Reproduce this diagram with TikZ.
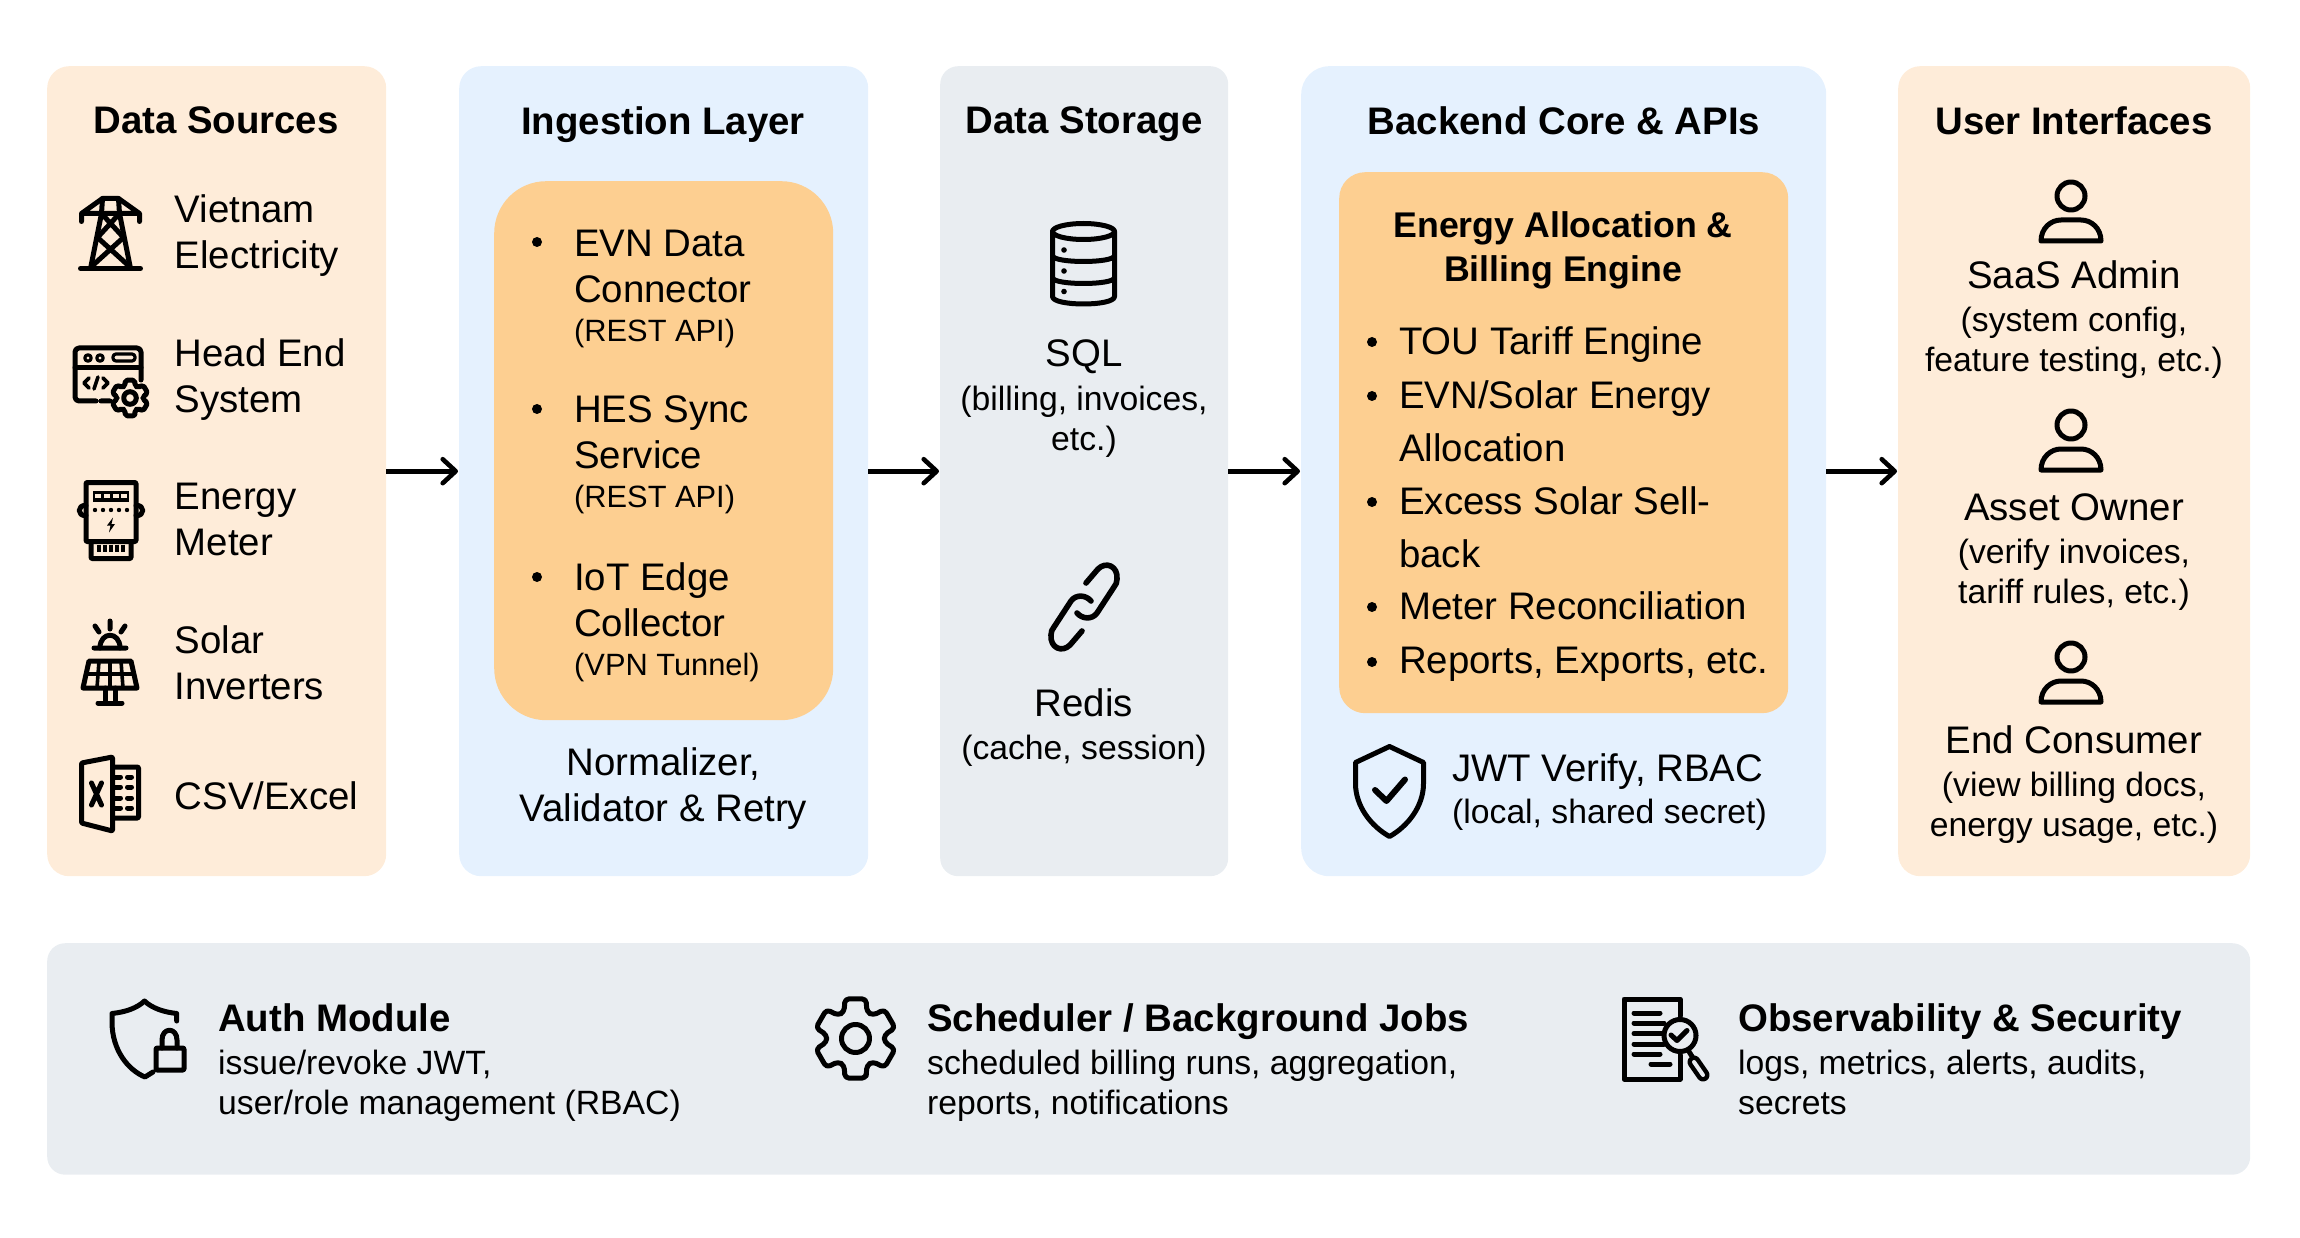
\documentclass[tikz,border=0pt]{standalone}
\usepackage{fontspec}
\setmainfont{Liberation Sans}
\usetikzlibrary{arrows.meta}
\definecolor{peach}{HTML}{FEECD9}
\definecolor{skyp}{HTML}{E5F1FE}
\definecolor{greyp}{HTML}{E9EDF1}
\definecolor{amber}{HTML}{FDCF91}
\newcommand{\fbig}{\fontsize{38.4}{46}\selectfont}
\newcommand{\fmid}{\fontsize{33.7}{40}\selectfont}
\newcommand{\flow}{\fontsize{30.8}{40}\selectfont}
% gear outline: scale, corner radius
\newcommand{\gearline}[2]{%
  \draw[icon,rounded corners=#2,scale=#1] (75:41)
    \foreach \g in {0,60,...,300} {
      -- (\g+75:41) -- (\g+105:41) -- (\g+113:29) -- (\g+127:29)
    } -- cycle;
  \draw[icon,scale=#1] (0,0) circle (14);}
% user outline
\newcommand{\userline}{%
  \draw[icon] (0,0) circle (14);
  \draw[icon] (-30,45) .. controls (-30,32) and (-20,24) .. (-10,24) -- (10,24)
    .. controls (20,24) and (30,32) .. (30,45) -- cycle;}

\begin{document}
\begin{tikzpicture}[x=1pt,y=-1pt,
  panel/.style={rectangle,inner sep=0pt,anchor=north west,rounded corners=22pt},
  t/.style={inner sep=0pt,anchor=north west,align=left,font=\fbig,yshift=1.2pt},
  tc/.style={inner sep=0pt,anchor=north,align=center,font=\fbig,yshift=1.2pt},
  s/.style={inner sep=0pt,anchor=north west,align=left,font=\fmid},
  sc/.style={inner sep=0pt,anchor=north,align=center,font=\fmid},
  h/.style={inner sep=0pt,anchor=north,font=\fbig\bfseries,yshift=1.2pt},
  hl/.style={inner sep=0pt,anchor=north west,font=\fbig\bfseries,yshift=1.2pt},
  dot/.style={circle,fill=black,inner sep=0pt,minimum size=10pt},
  icon/.style={draw=black,line width=5pt,line cap=round,line join=round},
  flowline/.style={line width=4.6pt,shorten >=1pt,-{Straight Barb[length=13pt,width=24pt,round]}}]
 \useasboundingbox (0,0) rectangle (2300,1238);
 % panels
 \node[panel,fill=peach,minimum width=339pt,minimum height=810pt] (src) at (47,66) {};
 \node[panel,fill=skyp,minimum width=409pt,minimum height=810pt] (ing) at (459,66) {};
 \node[panel,fill=greyp,minimum width=288pt,minimum height=810pt,rounded corners=18pt] (sto) at (940,66) {};
 \node[panel,fill=skyp,minimum width=525pt,minimum height=810pt,rounded corners=28pt] (bak) at (1301,66) {};
 \node[panel,fill=peach,minimum width=352pt,minimum height=810pt] (ui) at (1898,66) {};
 \node[panel,fill=greyp,minimum width=2203pt,minimum height=231.5pt,rounded corners=18pt] (bar) at (47,943) {};
 \node[panel,fill=amber,minimum width=339pt,minimum height=539pt,rounded corners=52pt] (ingbox) at (494,181) {};
 \node[panel,fill=amber,minimum width=449pt,minimum height=541pt,rounded corners=26pt] (engbox) at (1339,172) {};
 \foreach \a/\b in {src/ing,ing/sto,sto/bak,bak/ui} \draw[flowline] (\a)--(\b);
 % titles
 \node[h] (hsrc) at (216,108) {Data Sources};
 \node[h] (hing) at (663,108) {Ingestion Layer};
 \node[h] (hsto) at (1084,108) {Data Storage};
 \node[h] (hbak) at (1564,108) {Backend Core \& APIs};
 \node[h] (hui) at (2074,108) {User Interfaces};
 % sources
 \node[t] (vn) at (174.5,196) {Vietnam\\Electricity};
 \node[t] (hes) at (174.5,340) {Head End\\System};
 \node[t] (em) at (174.5,484) {Energy\\Meter};
 \node[t] (sol) at (174.5,627) {Solar\\Inverters};
 \node[t] (csv) at (174.5,783) {CSV/Excel};
 % ingestion
 \foreach \y/\n in {242/da,409/db,577/dc} \node[dot] (\n) at (537,\y) {};
 \node[t] (evn) at (574,231) {EVN Data\\Connector\\[-7pt]{\flow (REST API)}};
 \node[t] (sync) at (574,397) {HES Sync\\Service\\[-7pt]{\flow (REST API)}};
 \node[t] (iot) at (574,564) {IoT Edge\\Collector\\[-7pt]{\flow (VPN Tunnel)}};
 \node[tc] (norm) at (663.5,749) {Normalizer,\\Validator \& Retry};
 % storage
 \node[tc] (sql) at (1084,341) {SQL};
 \node[sc] (sqls) at (1084,385.5) {(billing, invoices,\\etc.)};
 \node[tc] (red) at (1084,690) {Redis};
 \node[sc] (reds) at (1084,735) {(cache, session)};
 % engine
 \node[inner sep=0pt,anchor=north,align=center,font=\fontsize{35.7}{44}\selectfont\bfseries] (engt) at (1563,211.5) {Energy Allocation \&\\Billing Engine};
 \foreach \y/\n in {342/ea,396/eb,502/ec,607/ed,662/ee} \node[dot] (\n) at (1372,\y) {};
 \node[t] (tou) at (1399,328) {TOU Tariff Engine};
 \node[t,font=\fontsize{38.4}{53}\selectfont] (alloc) at (1399,382) {EVN/Solar Energy\\Allocation};
 \node[t,font=\fontsize{38.4}{53}\selectfont] (excess) at (1399,488) {Excess Solar Sell-\\back};
 \node[t] (recon) at (1399,593) {Meter Reconciliation};
 \node[t] (rep) at (1399,648) {Reports, Exports, etc.};
 \node[t] (jwt) at (1452,755) {JWT Verify, RBAC};
 \node[s] (jwts) at (1452,799) {(local, shared secret)};
 % users
 \node[tc] (saas) at (2074,262) {SaaS Admin};
 \node[sc] (saass) at (2074,307) {(system config,\\feature testing, etc.)};
 \node[tc] (own) at (2074,495) {Asset Owner};
 \node[sc] (owns) at (2074,538.5) {(verify invoices,\\tariff rules, etc.)};
 \node[tc] (cons) at (2074,727) {End Consumer};
 \node[sc] (conss) at (2074,772) {(view billing docs,\\energy usage, etc.)};
 % bottom bar
 \node[hl] (auth) at (218,1005) {Auth Module};
 \node[s] (auths) at (218,1050) {issue/revoke JWT,\\user/role management (RBAC)};
 \node[hl] (sch) at (927,1005) {Scheduler / Background Jobs};
 \node[s] (schs) at (927,1050) {scheduled billing runs, aggregation,\\reports, notifications};
 \node[hl] (obs) at (1738,1005) {Observability \& Security};
 \node[s] (obss) at (1738,1050) {logs, metrics, alerts, audits,\\secrets};
 % tower
 \begin{scope}[shift={(110.5,232.5)}]
  \draw[icon] (-30,36)--(30,36);
  \draw[icon] (-20,36)--(-9,-19)--(-8,-34)--(8,-34)--(9,-19)--(20,36);
  \draw[icon] (-29,-11)--(-29,-19)--(-8,-34) (29,-11)--(29,-19)--(8,-34) (-29,-19)--(29,-19);
  \draw[icon] (-9,-19)--(13,5)--(-19,34) (9,-19)--(-13,5)--(19,34);
 \end{scope}
 % head end window
 \begin{scope}[shift={(111,382)}]
  \draw[icon,rounded corners=4pt] (-1,19)--(-10,19) (-15,19)--(-36,19)--(-36,-34)--(30,-34)--(30,-2);
  \draw[icon] (-36,-14)--(30,-14);
  \draw[icon,line width=3.2pt] (-23,-24) circle (3.2) (-11,-24) circle (3.2);
  \draw[icon,line width=3.2pt,rounded corners=3pt] (2,-28)--(24,-28)--(24,-21)--(2,-21)--cycle;
  \draw[icon,line width=3.6pt] (-22,-4)--(-27,1)--(-22,6) (-17,7)--(-13,-5) (-8,-4)--(-3,1)--(-8,6);
  \begin{scope}[shift={(19,16)}]
   \gearline{0.45}{2pt}
  \end{scope}
 \end{scope}
 % meter
 \begin{scope}[shift={(111,520.5)}]
  \draw[icon,rounded corners=1pt] (-25,-38)--(25,-38)--(25,21)--(-25,21)--cycle;
  \draw[icon,rounded corners=1pt] (-20,21)--(-20,38)--(20,38)--(20,21);
  \draw[icon] (-25,-15) .. controls (-34,-16) and (-34,-4) .. (-25,-5);
  \draw[icon] (25,-15) .. controls (34,-16) and (34,-4) .. (25,-5);
  \fill (-18,-30) rectangle (18,-19);
  \foreach \x in {-13,-4.5,4.5,13} \fill[peach] (\x-3,-27) rectangle (\x+3,-23);
  \foreach \x in {-16,-8,0,8,16} \fill (\x,-10.5) circle (2.2);
  \fill (2,-3)--(-4,5)--(-0.5,5)--(-2,12)--(4,3.5)--(0.5,3.5)--cycle;
  \draw[icon,line width=3.6pt,line cap=butt] \foreach \x in {-12,-6,0,6,12} {(\x,24)--(\x,31)};
 \end{scope}
 % solar
 \begin{scope}[shift={(110,662)}]
  \draw[icon] (-16,-14)--(16,-14) (0,-41)--(0,-33) (-15,-36)--(-11,-30) (15,-36)--(11,-30);
  \draw[icon] (-10,-14) .. controls (-10,-31) and (10,-31) .. (10,-14);
  \draw[icon] (-21,-1)--(21,-1)--(27,26)--(-27,26)--cycle;
  \draw[icon,line width=3.6pt] (-24,12)--(24,12) (-11,-1)--(-13,26) (0,-1)--(0,26) (11,-1)--(13,26);
  \draw[icon] (-5,26)--(-5,40) (5,26)--(5,40) (-12,41)--(12,41);
 \end{scope}
 % excel
 \begin{scope}[shift={(110.5,794)}]
  \draw[icon,rounded corners=1pt] (-29,-31)--(2,-37)--(2,37)--(-29,29)--cycle;
  \draw[icon,rounded corners=1pt] (2,-27)--(28,-27)--(28,24)--(2,24);
  \draw[icon] (-19,-11)--(-9,11) (-9,-11)--(-19,11);
  \foreach \y in {-17,-7,4,14} \draw[icon] (4,\y)--(10,\y) (17,\y)--(21,\y);
 \end{scope}
 % sql
 \begin{scope}[shift={(1083.5,263.5)}]
  \draw[icon] (0,-32) ellipse (31 and 8);
  \draw[icon] (-31,-32)--(-31,33) .. controls (-31,43) and (31,43) .. (31,33)--(31,-32);
  \draw[icon] (-31,-8) .. controls (-31,0) and (31,0) .. (31,-8);
  \draw[icon] (-31,14) .. controls (-31,22) and (31,22) .. (31,14);
  \foreach \y in {-13.5,7.5,28} \fill (-19.5,\y) circle (2.8);
 \end{scope}
 % redis
 \foreach \k in {1,-1} {
  \begin{scope}[shift={(1084,607)},xscale=\k,yscale=\k]
   \draw[icon,line width=5.6pt] (2,-24)--(14,-38) .. controls (22,-46) and (34,-41) .. (33,-28)
     .. controls (33,-25) and (32,-22) .. (30,-20) -- (13,6) .. controls (8,13) and (-2,12) .. (-7,6);
  \end{scope}}
 % jwt shield
 \begin{scope}[shift={(1389.5,791.5)}]
  \draw[icon] (0,-45)--(34,-29)--(34,-8) .. controls (34,15) and (18,35) .. (0,45)
    .. controls (-18,35) and (-34,15) .. (-34,-8)--(-34,-29)--cycle;
  \draw[icon,line width=6pt] (-14.5,-1.5)--(-3,9.5)--(15.5,-12);
 \end{scope}
 % users
 \foreach \y in {196,425,657} {
  \begin{scope}[shift={(2071,\y)}]
   \userline
  \end{scope}}
 % auth
 \draw[icon] (176.7,1021)--(176.7,1013.5) .. controls (163,1012) and (152,1008) .. (144.5,1001)
   .. controls (137,1008) and (126,1012) .. (112,1013.5)--(112,1022) .. controls (112,1050) and (128,1070) .. (145,1077)--(153,1072);
 \draw[icon,rounded corners=1pt] (156,1048)--(184,1048)--(184,1070)--(156,1070)--cycle;
 \draw[icon] (162,1048)--(162,1040) .. controls (162,1027) and (177,1027) .. (177,1040)--(177,1048);
 % scheduler
 \begin{scope}[shift={(855.5,1038.5)}]
  \gearline{1}{4pt}
 \end{scope}
 % observability
 \draw[icon] (1680,1016)--(1680,999)--(1624,999)--(1624,1079)--(1680,1079)--(1680,1055);
 \foreach \y/\r in {1013/1660,1023/1664,1033.5/1662,1044/1664,1054/1660} \draw[icon] (1634,\y)--(\r,\y);
 \draw[icon] (1651,1064)--(1670,1064);
 \fill[greyp] (1680,1035.5) circle (16);
 \draw[icon] (1680,1035.5) circle (16);
 \draw[icon] (1671,1035)--(1677,1040.5)--(1687,1030.5);
 \draw[icon] (1688,1050)--(1693,1058);
 \draw[line width=13pt,line cap=round] (1694,1062)--(1703,1075);
 \draw[greyp,line width=4pt,line cap=round] (1694,1062)--(1703,1075);
\end{tikzpicture}
\end{document}
